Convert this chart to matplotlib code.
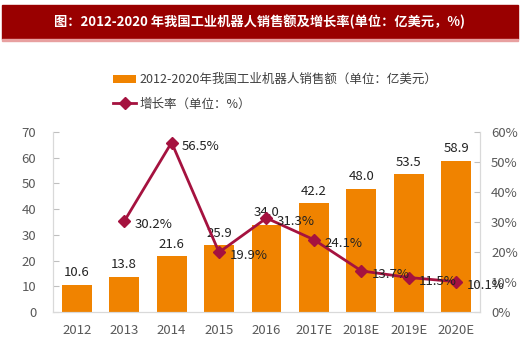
import matplotlib
matplotlib.use('Agg')
import matplotlib.pyplot as plt
from matplotlib.patches import Rectangle

plt.rcParams['font.family'] = ['Noto Sans CJK SC', 'DejaVu Sans']

years = ['2012', '2013', '2014', '2015', '2016', '2017E', '2018E', '2019E', '2020E']
sales = [10.6, 13.8, 21.6, 25.9, 34.0, 42.2, 48.0, 53.5, 58.9]
growth_years = ['2013', '2014', '2015', '2016', '2017E', '2018E', '2019E', '2020E']
growth = [30.2, 56.5, 19.9, 31.3, 24.1, 13.7, 11.5, 10.1]

title = '图：2012-2020 年我国工业机器人销售额及增长率(单位：亿美元，%)'
bar_label = '2012-2020年我国工业机器人销售额（单位：亿美元）'
line_label = '增长率（单位：%）'

orange = '#F08300'
red = '#A5123F'
grey = '#595959'

fig = plt.figure(figsize=(5.2, 3.48), dpi=100)

# title banner
fig.patches.append(Rectangle((2 / 520, 1 - 39 / 348), 516 / 520, 34 / 348,
                             transform=fig.transFigure, color='#990000', zorder=0))
fig.patches.append(Rectangle((2 / 520, 1 - 41 / 348), 516 / 520, 2 / 348,
                             transform=fig.transFigure, color='#E8A0A0', zorder=0))
fig.text(0.5, 1 - 22 / 348, title, color='white', fontsize=9.5, fontweight='bold',
         ha='center', va='center')

ax = fig.add_axes([53 / 520, 1 - 312 / 348, 427 / 520, 180 / 348])
x = list(range(len(years)))
bars = ax.bar(x, sales, width=0.63, color=orange, label=bar_label, zorder=2)
for xi, v in zip(x, sales):
    ax.text(xi, v + 2.2, f'{v:.1f}', ha='center', va='bottom', fontsize=9.5, color='#222222', zorder=5)

ax.set_xlim(-0.5, len(years) - 0.5)
ax.set_ylim(0, 70)
ax.set_yticks(range(0, 71, 10))
ax.set_xticks(x)
ax.set_xticklabels(years)

ax2 = ax.twinx()
gx = [years.index(y) for y in growth_years]
ln, = ax2.plot(gx, growth, color=red, lw=2, marker='D', markersize=6, label=line_label, zorder=4)
for xi, v in zip(gx, growth):
    ax2.text(xi + 0.22, v - 1.2, f'{v:.1f}%', ha='left', va='center', fontsize=9.5, color='#222222', zorder=6)
ax2.set_ylim(0, 60)
ax2.set_yticks(range(0, 61, 10))
ax2.set_yticklabels([f'{t}%' for t in range(0, 61, 10)])

for a in (ax, ax2):
    for s in a.spines.values():
        s.set_color('#D9D9D9')
    a.spines['top'].set_visible(False)
    a.tick_params(axis='y', direction='in', length=4, color='#BFBFBF', labelcolor=grey, labelsize=9.5, pad=8)
    a.tick_params(axis='x', length=0, labelcolor=grey, labelsize=9.5, pad=9)
ax.tick_params(axis='y', pad=12)
ax.set_zorder(ax2.get_zorder() - 1)
ax.patch.set_visible(True)
ax2.patch.set_visible(False)

fig.legend(handles=[bars, ln], labels=[bar_label, line_label],
           loc='upper left', bbox_to_anchor=(102 / 520, 1 - 62 / 348),
           frameon=False, fontsize=9, labelcolor='#404040',
           handlelength=1.8, handletextpad=0.3, labelspacing=0.9)

fig.savefig('out.png', dpi=100)
